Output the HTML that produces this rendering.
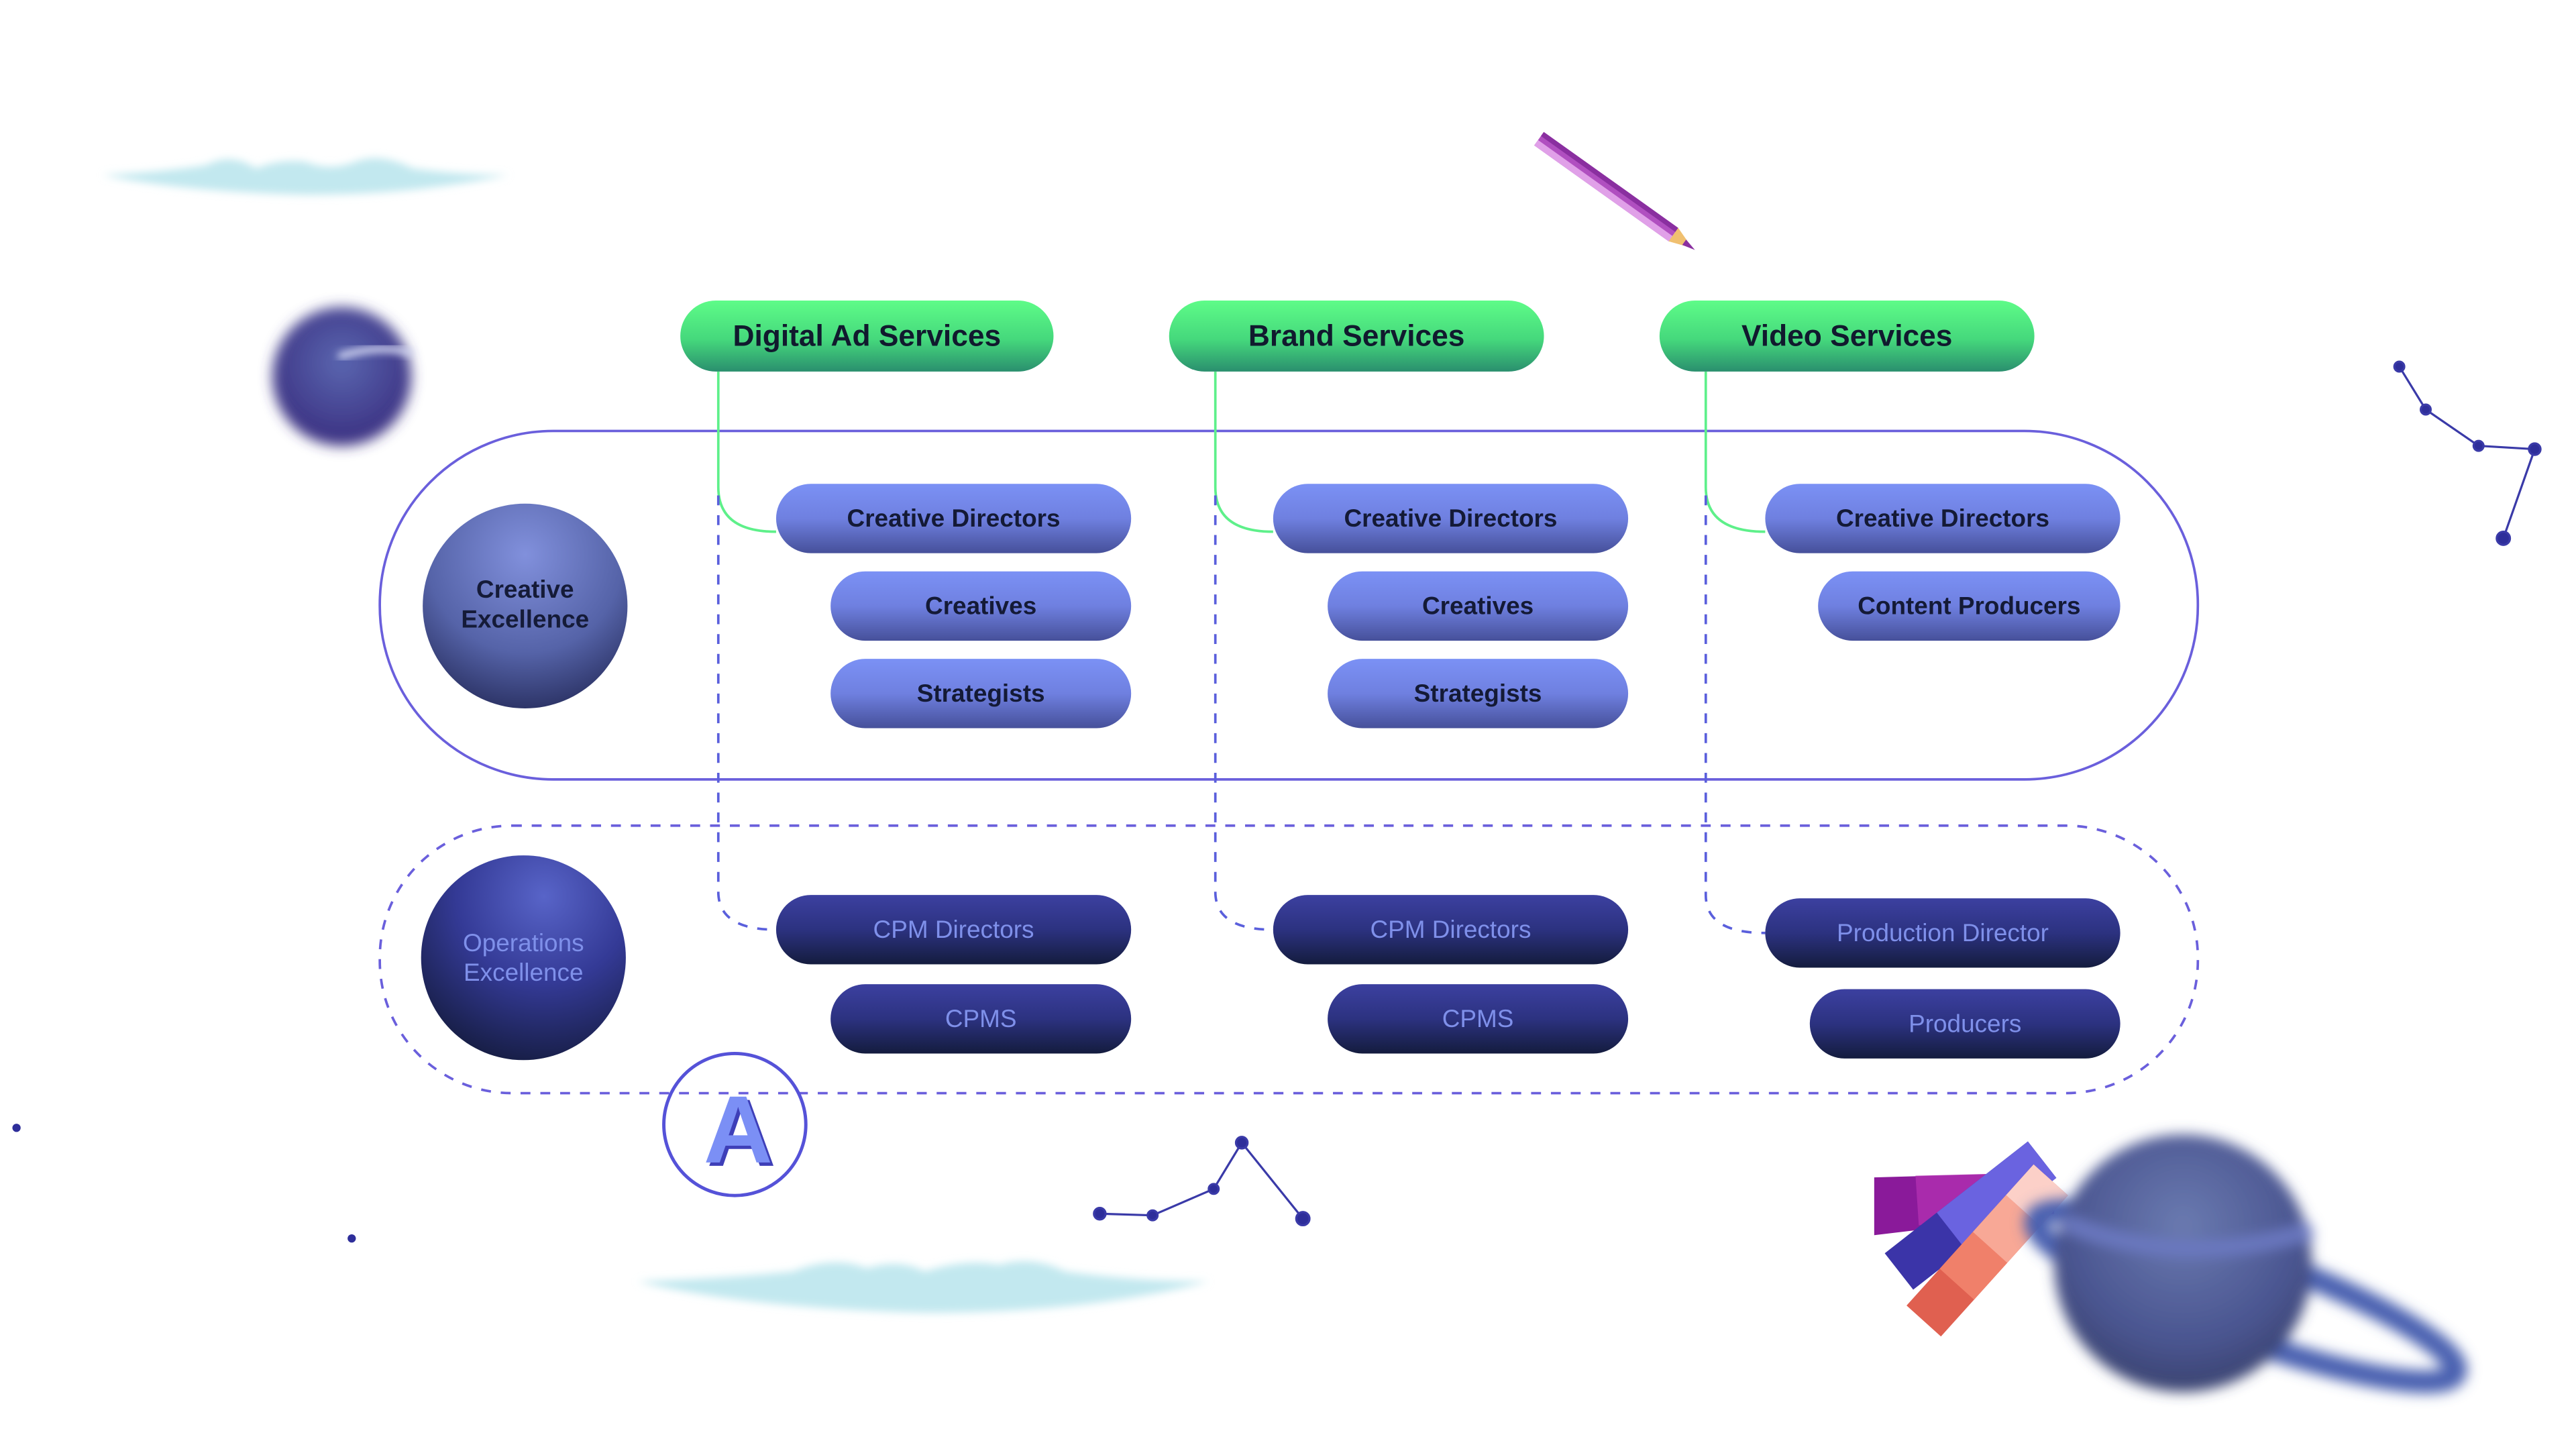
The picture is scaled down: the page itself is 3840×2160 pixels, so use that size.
<!DOCTYPE html>
<html><head><meta charset="utf-8"><style>
html,body{margin:0;padding:0;background:#fff;}
svg{display:block;}
text{font-family:"Liberation Sans",sans-serif;}
</style></head><body>
<svg width="3840" height="2160" viewBox="0 0 1560 877.5" xmlns="http://www.w3.org/2000/svg">
<defs>
<linearGradient id="gg" x1="0" y1="0" x2="0" y2="1"><stop offset="0" stop-color="#5efc88"/><stop offset="0.55" stop-color="#45d87c"/><stop offset="1" stop-color="#2a8f6e"/></linearGradient>
<linearGradient id="lb" x1="0" y1="0" x2="0" y2="1"><stop offset="0" stop-color="#7b91f5"/><stop offset="0.5" stop-color="#6f80e0"/><stop offset="1" stop-color="#46509a"/></linearGradient>
<linearGradient id="db" x1="0" y1="0" x2="0" y2="1"><stop offset="0" stop-color="#3c40a0"/><stop offset="0.5" stop-color="#2c3280"/><stop offset="1" stop-color="#141c3e"/></linearGradient>
<radialGradient id="s1" cx="0.5" cy="0.25" r="0.8"><stop offset="0" stop-color="#8190dc"/><stop offset="0.6" stop-color="#5563a8"/><stop offset="1" stop-color="#262c5c"/></radialGradient>
<radialGradient id="s2" cx="0.6" cy="0.2" r="0.85"><stop offset="0" stop-color="#5864c8"/><stop offset="0.5" stop-color="#343a96"/><stop offset="1" stop-color="#151c40"/></radialGradient>
<radialGradient id="pl" cx="0.5" cy="0.4" r="0.6"><stop offset="0" stop-color="#5a66b0"/><stop offset="1" stop-color="#3a2f80"/></radialGradient>
<radialGradient id="pr" cx="0.5" cy="0.35" r="0.65"><stop offset="0" stop-color="#6a7ab0"/><stop offset="0.7" stop-color="#4a5590"/><stop offset="1" stop-color="#3a4370"/></radialGradient>
<filter id="bl" x="-50%" y="-50%" width="200%" height="200%"><feGaussianBlur stdDeviation="4"/></filter>
<filter id="bl2" x="-50%" y="-50%" width="200%" height="200%"><feGaussianBlur stdDeviation="2.5"/></filter>
</defs>

<!-- clouds -->
<path d="M62,106 Q100,104 125,100 Q140,92 155,102 Q170,96 185,98 Q200,104 215,98 Q230,92 250,102 Q280,106 308,106 Q250,118 185,118 Q110,116 62,106Z" fill="#c2e8ef" filter="url(#bl2)"/>
<path d="M386,776 Q440,774 480,770 Q505,760 525,768 Q545,762 560,770 Q585,762 605,766 Q625,760 645,770 Q690,776 732,776 Q660,795 560,795 Q450,792 386,776Z" fill="#c2e8ef" filter="url(#bl2)"/>

<!-- left planet -->
<circle cx="207" cy="228" r="42" fill="url(#pl)" filter="url(#bl)"/>
<path d="M205,216 Q230,208 250,214" stroke="#d8dcf5" stroke-width="4" fill="none" filter="url(#bl2)"/>

<!-- pencil -->
<g transform="translate(932,84) rotate(35.5)">
<rect x="0" y="-5" width="100" height="10" fill="#b04fc0"/>
<rect x="0" y="-5" width="100" height="3" fill="#8a2fa0"/>
<rect x="0" y="1" width="100" height="4" fill="#e0a0e8"/>
<polygon points="100,-5 114,0 100,5" fill="#f0c070"/>
<polygon points="108,-2 116,0 108,2" fill="#8a2fa0"/>
</g>

<!-- outer containers -->
<rect x="230" y="261" width="1101" height="211" rx="105" fill="none" stroke="#6a5fdc" stroke-width="1.5"/>
<rect x="230" y="500" width="1101" height="162" rx="80" fill="none" stroke="#6a5fdc" stroke-width="1.5" stroke-dasharray="6,6"/>

<!-- connectors -->
<g fill="none" stroke-width="1.5">
<path d="M435,225 V295 Q435,322 470,322" stroke="#5ef08a"/>
<path d="M736,225 V295 Q736,322 771,322" stroke="#5ef08a"/>
<path d="M1033,225 V295 Q1033,322 1069,322" stroke="#5ef08a"/>
<g stroke="#5a5fdc" stroke-dasharray="6,6">
<path d="M435,300 V540 Q435,563 470,563"/>
<path d="M736,300 V540 Q736,563 771,563"/>
<path d="M1033,300 V542 Q1033,565 1069,565"/>
</g>
</g>

<!-- green pills -->
<g font-weight="bold" font-size="18" fill="#111a2e" text-anchor="middle">
<rect x="412" y="182" width="226" height="43" rx="21.5" fill="url(#gg)"/>
<text x="525" y="209.5">Digital Ad Services</text>
<rect x="708" y="182" width="227" height="43" rx="21.5" fill="url(#gg)"/>
<text x="821.5" y="209.5">Brand Services</text>
<rect x="1005" y="182" width="227" height="43" rx="21.5" fill="url(#gg)"/>
<text x="1118.5" y="209.5">Video Services</text>
</g>

<!-- spheres -->
<circle cx="318" cy="367" r="62" fill="url(#s1)"/>
<text x="318" y="362" font-size="15" font-weight="bold" fill="#151b38" text-anchor="middle">Creative</text>
<text x="318" y="380" font-size="15" font-weight="bold" fill="#151b38" text-anchor="middle">Excellence</text>
<circle cx="317" cy="580" r="62" fill="url(#s2)"/>
<text x="317" y="576" font-size="15" fill="#7f90ea" text-anchor="middle">Operations</text>
<text x="317" y="594" font-size="15" fill="#7f90ea" text-anchor="middle">Excellence</text>

<!-- light pills -->
<g font-weight="bold" font-size="15" fill="#141a36" text-anchor="middle">
<rect x="470" y="293" width="215" height="42" rx="21" fill="url(#lb)"/><text x="577.5" y="319">Creative Directors</text>
<rect x="503" y="346" width="182" height="42" rx="21" fill="url(#lb)"/><text x="594" y="372">Creatives</text>
<rect x="503" y="399" width="182" height="42" rx="21" fill="url(#lb)"/><text x="594" y="425">Strategists</text>
<rect x="771" y="293" width="215" height="42" rx="21" fill="url(#lb)"/><text x="878.5" y="319">Creative Directors</text>
<rect x="804" y="346" width="182" height="42" rx="21" fill="url(#lb)"/><text x="895" y="372">Creatives</text>
<rect x="804" y="399" width="182" height="42" rx="21" fill="url(#lb)"/><text x="895" y="425">Strategists</text>
<rect x="1069" y="293" width="215" height="42" rx="21" fill="url(#lb)"/><text x="1176.5" y="319">Creative Directors</text>
<rect x="1101" y="346" width="183" height="42" rx="21" fill="url(#lb)"/><text x="1192.5" y="372">Content Producers</text>
</g>

<!-- dark pills -->
<g font-size="15" fill="#7f90ea" text-anchor="middle">
<rect x="470" y="542" width="215" height="42" rx="21" fill="url(#db)"/><text x="577.5" y="568">CPM Directors</text>
<rect x="503" y="596" width="182" height="42" rx="21" fill="url(#db)"/><text x="594" y="622">CPMS</text>
<rect x="771" y="542" width="215" height="42" rx="21" fill="url(#db)"/><text x="878.5" y="568">CPM Directors</text>
<rect x="804" y="596" width="182" height="42" rx="21" fill="url(#db)"/><text x="895" y="622">CPMS</text>
<rect x="1069" y="544" width="215" height="42" rx="21" fill="url(#db)"/><text x="1176.5" y="570">Production Director</text>
<rect x="1096" y="599" width="188" height="42" rx="21" fill="url(#db)"/><text x="1190" y="625">Producers</text>
</g>

<!-- A icon -->
<circle cx="445" cy="681" r="43" fill="#fff" fill-opacity="0" stroke="#5552d8" stroke-width="2"/>
<text x="449" y="706" font-family="Liberation Serif,serif" font-size="58" font-weight="bold" fill="#3e3fb8" text-anchor="middle">A</text>
<text x="447" y="704" font-family="Liberation Serif,serif" font-size="58" font-weight="bold" fill="#7b8ff5" text-anchor="middle">A</text>

<!-- constellations -->
<g stroke="#3a3aa8" stroke-width="1.3" fill="#2e2e9a">
<polyline points="666,735 698,736 735,720 752,692 789,738" fill="none"/>
<circle cx="666" cy="735" r="3.5"/><circle cx="698" cy="736" r="3"/><circle cx="735" cy="720" r="3"/><circle cx="752" cy="692" r="3.5"/><circle cx="789" cy="738" r="4"/>
<polyline points="1453,222 1469,248 1501,270 1535,272 1516,326" fill="none"/>
<circle cx="1453" cy="222" r="3"/><circle cx="1469" cy="248" r="3"/><circle cx="1501" cy="270" r="3"/><circle cx="1535" cy="272" r="3.5"/><circle cx="1516" cy="326" r="4"/>
<circle cx="10" cy="683" r="2.5" stroke="none"/><circle cx="213" cy="750" r="2.5" stroke="none"/>
</g>

<!-- swatches -->
<g>
<polygon points="1135,713 1242,710 1244,735 1135,748" fill="#8a1a9a"/>
<polygon points="1160,712 1242,710 1244,735 1162,742" fill="#b030b0" opacity="0.8"/>
<g transform="translate(1150,770) rotate(-38)">
<rect x="0" y="-14" width="110" height="28" fill="#3b34a8"/>
<rect x="40" y="-14" width="70" height="28" fill="#6a63e0"/>
</g>
<g transform="translate(1165,800) rotate(-48)">
<rect x="0" y="-14" width="115" height="28" fill="#e06050"/>
<rect x="30" y="-14" width="30" height="28" fill="#f0806a"/>
<rect x="60" y="-14" width="30" height="28" fill="#f8a896"/>
<rect x="90" y="-14" width="25" height="28" fill="#fcd0c8"/>
</g>
</g>

<!-- right planet -->
<g filter="url(#bl)">
<ellipse cx="1360" cy="785" rx="135" ry="25" transform="rotate(20 1360 785)" fill="none" stroke="#4a60b0" stroke-width="14"/>
<circle cx="1322" cy="765" r="78" fill="url(#pr)"/>
<path d="M1250,740 Q1320,770 1400,745" stroke="#6a78c0" stroke-width="10" fill="none"/>
</g>
</svg>
</body></html>
